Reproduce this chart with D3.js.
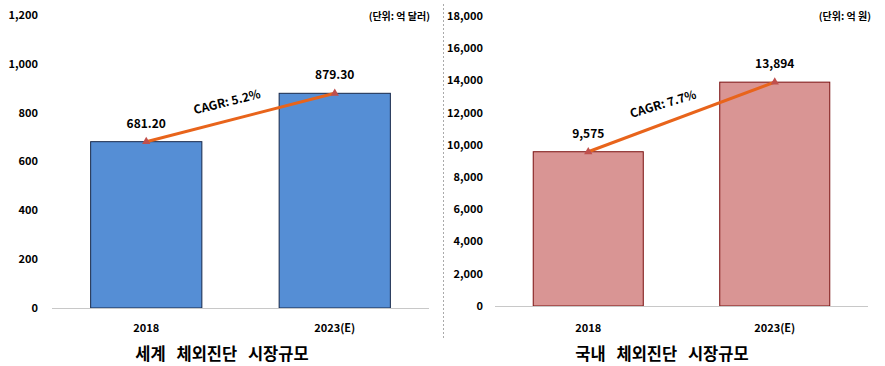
<!DOCTYPE html>
<html><head><meta charset="utf-8">
<script src="https://cdn.jsdelivr.net/npm/d3@7"></script>
<style>body{margin:0;background:#fff}svg{display:block}text{font-family:"Noto Sans CJK KR","Noto Sans",sans-serif;fill:#000}</style>
</head><body>
<svg id="c" width="885" height="366"></svg>
<script>
const categories = ["2018", "2023(E)"];
const worldValues = [681.2, 879.3];
const worldLabels = ["681.20", "879.30"];
const worldTicks = [0, 200, 400, 600, 800, 1000, 1200];
const domesticValues = [9575, 13894];
const domesticLabels = ["9,575", "13,894"];
const domesticTicks = [0, 2000, 4000, 6000, 8000, 10000, 12000, 14000, 16000, 18000];
const titles = ["세계 체외진단 시장규모", "국내 체외진단 시장규모"];
const units = ["(단위: 억 달러)", "(단위: 억 원)"];
const cagrs = ["CAGR: 5.2%", "CAGR: 7.7%"];

const svg = d3.select("#c");
const fmt = d3.format(",");

function panel(cfg){
  const g = svg.append("g");
  const x = d3.scaleBand().domain(categories).range([cfg.x0, cfg.x1]).paddingInner(0.41).paddingOuter(0.205);
  const y = d3.scaleLinear().domain([0, cfg.max]).range([cfg.base, cfg.top]);
  g.selectAll(".yt").data(cfg.ticks).join("text")
    .attr("x", cfg.labelX).attr("y", d => y(d)).attr("dy", "0.35em")
    .attr("text-anchor", "end").attr("font-size", 11).attr("font-weight", "bold").attr("fill", "#222")
    .text(d => fmt(d));
  g.selectAll(".bar").data(cfg.values).join("rect")
    .attr("x", (d,i) => x(categories[i])).attr("width", x.bandwidth())
    .attr("y", d => y(d)).attr("height", d => cfg.base - y(d))
    .attr("fill", cfg.fill).attr("stroke", cfg.stroke).attr("stroke-width", 1);
  g.append("line").attr("x1", cfg.x0).attr("x2", cfg.x1).attr("y1", cfg.base + 0.5).attr("y2", cfg.base + 0.5)
    .attr("stroke", "#c8c8c8").attr("stroke-width", 1);
  g.selectAll(".xl").data(categories).join("text")
    .attr("x", d => x(d) + x.bandwidth()/2).attr("y", 328).attr("dy", "0.35em")
    .attr("text-anchor", "middle").attr("font-size", 11).attr("font-weight", "bold")
    .text(d => d);
  const pts = cfg.values.map((v,i) => [x(categories[i]) + x.bandwidth()/2, y(v)]);
  g.append("path").attr("d", d3.line()(pts)).attr("fill", "none")
    .attr("stroke", "#E8641B").attr("stroke-width", 3);
  g.selectAll(".mk").data(pts).join("path")
    .attr("d", d3.symbol(d3.symbolTriangle, 30)())
    .attr("transform", d => `translate(${d[0]},${d[1]})`)
    .attr("fill", "#C0504D");
  g.selectAll(".vl").data(cfg.labels).join("text")
    .attr("x", (d,i) => pts[i][0]).attr("y", (d,i) => pts[i][1] - 14)
    .attr("text-anchor", "middle").attr("font-size", 12).attr("font-weight", "bold")
    .text(d => d);
  g.append("text").attr("transform", `translate(${cfg.cagrPos[0]},${cfg.cagrPos[1]}) rotate(${cfg.cagrRot})`)
    .attr("text-anchor", "middle").attr("dy", "0.35em").attr("font-size", 12).attr("font-weight", "bold")
    .text(cfg.cagr);
  g.append("text").attr("x", cfg.unitX).attr("y", 16).attr("dy", "0.35em").attr("text-anchor", "end")
    .attr("font-size", 10).attr("font-weight", "bold").text(cfg.unit);
  g.append("text").attr("x", cfg.titleX).attr("y", 354).attr("dy", "0.35em").attr("text-anchor", "middle")
    .attr("font-size", 16.5).attr("font-weight", "bold").attr("word-spacing", "7px").text(cfg.title);
}

panel({x0: 52, x1: 429, base: 308, top: 15, max: 1200, ticks: worldTicks, labelX: 38,
  values: worldValues, labels: worldLabels, fill: "#558ED5", stroke: "#17284A",
  cagr: cagrs[0], cagrPos: [227, 102], cagrRot: -14, unit: units[0], unitX: 430, title: titles[0], titleX: 222});
panel({x0: 495, x1: 868, base: 306, top: 16, max: 18000, ticks: domesticTicks, labelX: 483,
  values: domesticValues, labels: domesticLabels, fill: "#D99594", stroke: "#7A1010",
  cagr: cagrs[1], cagrPos: [663, 104], cagrRot: -17, unit: units[1], unitX: 871, title: titles[1], titleX: 662});

svg.append("line").attr("x1", 443.5).attr("x2", 443.5).attr("y1", 4).attr("y2", 338)
  .attr("stroke", "#aaa").attr("stroke-width", 1).attr("stroke-dasharray", "2,2");
</script>
</body></html>
